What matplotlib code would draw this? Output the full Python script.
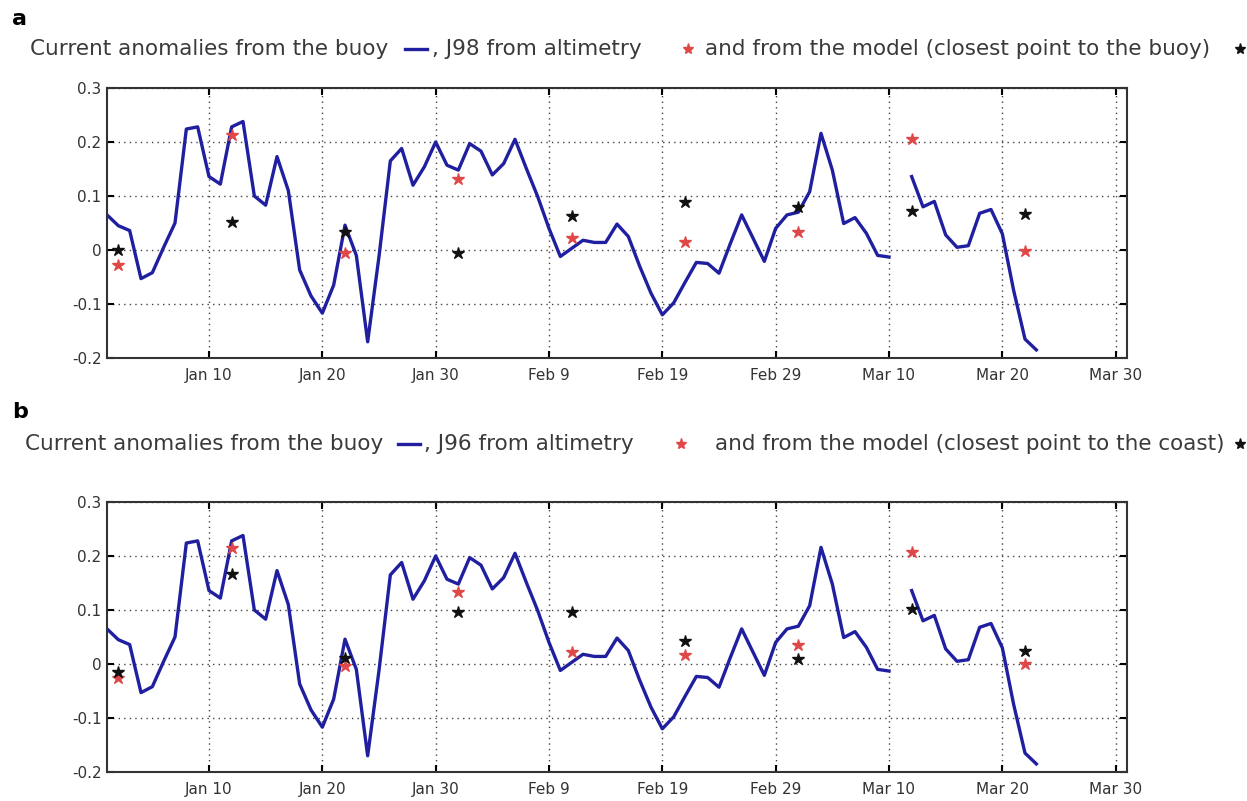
import numpy as np
import pandas as pd
import matplotlib
matplotlib.use("Agg")
import matplotlib.pyplot as plt
from matplotlib.lines import Line2D

# buoy current anomalies, daily from Jan 1 2008 (gap on Mar 11)
buoy = [0.065, 0.045, 0.036, -0.053, -0.042, 0.005, 0.050, 0.224, 0.228, 0.136,
        0.122, 0.228, 0.238, 0.100, 0.083, 0.173, 0.110, -0.037, -0.085, -0.117,
        -0.065, 0.046, -0.010, -0.170, -0.012, 0.165, 0.188, 0.120, 0.154, 0.200,
        0.157, 0.148, 0.197, 0.183, 0.139, 0.160, 0.205, 0.151, 0.099, 0.040,
        -0.012, 0.003, 0.018, 0.014, 0.014, 0.048, 0.025, -0.030, -0.080, -0.120,
        -0.098, -0.060, -0.023, -0.025, -0.043, 0.012, 0.065, 0.022, -0.021, 0.040,
        0.065, 0.070, 0.108, 0.216, 0.148, 0.049, 0.060, 0.031, -0.010, -0.013,
        np.nan, 0.136, 0.080, 0.090, 0.028, 0.005, 0.008, 0.068, 0.075, 0.030,
        -0.075, -0.165, -0.185]
buoy_dates = pd.date_range("2008-01-01", periods=len(buoy), freq="D")

# 10-day sampling dates of altimetry / model
alt_dates = pd.to_datetime(["2008-01-02", "2008-01-12", "2008-01-22", "2008-02-01",
                            "2008-02-11", "2008-02-21", "2008-03-02", "2008-03-12",
                            "2008-03-22"])
alt_a = [-0.028, 0.213, -0.005, 0.131, 0.023, 0.015, 0.034, 0.205, -0.001]
model_a = [0.000, 0.052, 0.034, -0.006, 0.063, 0.088, 0.080, 0.072, 0.066]
alt_b = [-0.026, 0.215, -0.003, 0.133, 0.023, 0.017, 0.036, 0.207, 0.000]
model_b = [-0.014, 0.167, 0.012, 0.097, 0.096, 0.042, 0.009, 0.102, 0.025]

xtick_dates = pd.to_datetime(["2008-01-10", "2008-01-20", "2008-01-30", "2008-02-09",
                              "2008-02-19", "2008-02-29", "2008-03-10", "2008-03-20",
                              "2008-03-30"])
xtick_labels = ["Jan 10", "Jan 20", "Jan 30", "Feb 9", "Feb 19", "Feb 29",
                "Mar 10", "Mar 20", "Mar 30"]
ytick_vals = [-0.2, -0.1, 0, 0.1, 0.2, 0.3]
ytick_labels = ["-0.2", "-0.1", "0", "0.1", "0.2", "0.3"]

W, H = 1247, 801
line_col = "#1f1fa0"
red_col = "#e04848"
blk_col = "#111111"

fig = plt.figure(figsize=(W / 100, H / 100), dpi=100)


def fx(x):
    return x / W


def fy(y):
    return 1 - y / H


def panel(top, alt, model):
    ax = fig.add_axes([fx(107), fy(top + 270), fx(1020), 270 / H])
    ax.plot(buoy_dates, buoy, color=line_col, lw=2.4)
    ax.plot(alt_dates, alt, ls="none", marker="*", ms=9, color=red_col)
    ax.plot(alt_dates, model, ls="none", marker="*", ms=9, color=blk_col)
    ax.set_xlim(pd.Timestamp("2008-01-01"), pd.Timestamp("2008-03-31"))
    ax.set_ylim(-0.2, 0.3)
    ax.set_xticks(xtick_dates)
    ax.set_xticklabels(xtick_labels)
    ax.set_yticks(ytick_vals)
    ax.set_yticklabels(ytick_labels)
    ax.tick_params(direction="in", length=5, width=1.5, top=True, right=True,
                   labelsize=11, labelcolor="#333333", pad=4)
    ax.tick_params(axis="x", pad=7)
    ax.grid(True, linestyle=(0, (1, 3)), color="#444444", lw=1)
    for s in ax.spines.values():
        s.set_linewidth(1.5)
        s.set_color("#333333")
    return ax


def header(letter, ly, ty, pieces, dash, red_x, blk_x):
    fig.text(fx(12), fy(ly), letter, fontsize=16, fontweight="bold", va="center")
    for x, s in pieces:
        fig.text(fx(x), fy(ty), s, fontsize=15.5, color="#3a3a3a", va="center")
    fig.add_artist(Line2D([fx(dash[0]), fx(dash[1])], [fy(ty), fy(ty)],
                          color=line_col, lw=2.4, transform=fig.transFigure))
    fig.add_artist(Line2D([fx(red_x)], [fy(ty)], marker="*", ms=8, color=red_col,
                          ls="none", transform=fig.transFigure))
    fig.add_artist(Line2D([fx(blk_x)], [fy(ty)], marker="*", ms=8, color=blk_col,
                          ls="none", transform=fig.transFigure))


panel(88, alt_a, model_a)
panel(502, alt_b, model_b)

header("a", 19, 49,
       [(30, "Current anomalies from the buoy"), (432, ", J98 from altimetry"),
        (705, "and from the model (closest point to the buoy)")],
       (405, 427), 688, 1240)
header("b", 412, 444,
       [(25, "Current anomalies from the buoy"), (424, ", J96 from altimetry"),
        (715, "and from the model (closest point to the coast)")],
       (398, 420), 681, 1240)

fig.savefig("out.png", dpi=100)
